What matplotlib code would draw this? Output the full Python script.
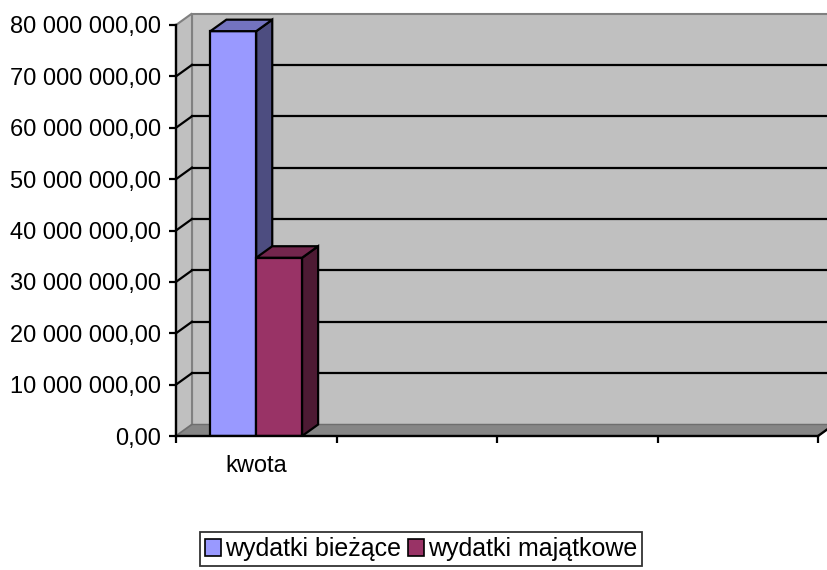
import matplotlib
matplotlib.use("Agg")
import matplotlib.pyplot as plt
from matplotlib.patches import Polygon, Patch

plt.rcParams['font.family'] = ['Liberation Sans', 'DejaVu Sans']

# ---- data ----
categories = ['kwota', '', '', '']
series_names = ['wydatki bieżące', 'wydatki majątkowe']
series_values = [[78.8e6], [34.7e6]]
front_colors = ['#9999ff', '#993366']
side_colors = ['#4d4d80', '#4d1a33']
top_colors = ['#7373bf', '#73264d']
ytick_values = [0, 10e6, 20e6, 30e6, 40e6, 50e6, 60e6, 70e6, 80e6]

def fmt(v):
    s = f"{v:,.2f}"
    return s.replace(",", " ").replace(".", ",")

W, H = 827, 570
fig = plt.figure(figsize=(W / 100, H / 100), dpi=100)
x0px, y0px = 176, 436      # front origin in pixels (from top)
catpx = 160.5
ytop_front = 25
dxpx, dypx = 16, 11.5
ymax = 80e6
ppv = (y0px - ytop_front) / ymax
dx = dxpx / catpx
dy = dypx / ppv
ax_top_px = ytop_front - dypx
ax = fig.add_axes([x0px / W, (H - y0px) / H, (W - x0px) / W, (y0px - ax_top_px) / H])
xmax = (W - x0px) / catpx
ax.set_xlim(0, xmax)
ax.set_ylim(0, ymax + dy)
for s in ax.spines.values():
    s.set_visible(False)
ax.patch.set_visible(False)

ncat = len(categories)
# back wall
ax.add_patch(Polygon([(dx, dy), (ncat + dx + 1, dy), (ncat + dx + 1, ymax + dy), (dx, ymax + dy)],
                     closed=True, facecolor='#c0c0c0', edgecolor='#808080', lw=1.5, clip_on=False, zorder=1))
# left wall
ax.add_patch(Polygon([(0, 0), (dx, dy), (dx, ymax + dy), (0, ymax)],
                     closed=True, facecolor='#c0c0c0', edgecolor='#808080', lw=1.5, clip_on=False, zorder=1))
# floor
ax.add_patch(Polygon([(0, 0), (ncat, 0), (ncat + dx, dy), (dx, dy)],
                     closed=True, facecolor='#868686', edgecolor='#6e6e6e', lw=1.0, clip_on=False, zorder=1.5))
# gridlines
for v in ytick_values[1:-1]:
    ax.plot([dx, xmax + 1], [v + dy, v + dy], color='black', lw=1.6, zorder=2, clip_on=True)
    ax.plot([0, dx], [v, v + dy], color='black', lw=1.6, zorder=2)

# axes lines
ax.plot([0, 0], [0, ymax], color='black', lw=1.7, zorder=6, clip_on=False, solid_capstyle='projecting')
ax.plot([0, ncat], [0, 0], color='black', lw=1.7, zorder=6, clip_on=False)
ax.plot([ncat, ncat + dx], [0, dy], color='black', lw=1.7, zorder=6, clip_on=False)

# bars
nser = len(series_values)
bw = 1 / (nser + 1.5)
start = (1 - nser * bw) / 2
for i, vals in enumerate(series_values):
    for c, v in enumerate(vals):
        xl = c + start + i * bw
        xr = xl + bw
        ax.bar(xl, v, width=bw, align='edge', color=front_colors[i], edgecolor='black', lw=1.6, zorder=3 + i)
        ax.add_patch(Polygon([(xr, 0), (xr + dx, dy), (xr + dx, v + dy), (xr, v)], closed=True,
                             facecolor=side_colors[i], edgecolor='black', lw=1.6, zorder=3 + i))
        ax.add_patch(Polygon([(xl, v), (xr, v), (xr + dx, v + dy), (xl + dx, v + dy)], closed=True,
                             facecolor=top_colors[i], edgecolor='black', lw=1.6, zorder=3 + i))

# ticks
ax.set_yticks(ytick_values)
ax.set_yticklabels([fmt(v) for v in ytick_values])
ax.tick_params(axis='y', length=5, width=1.6, pad=6, labelsize=17, direction='out', left=True)
ax.set_xticks(range(ncat + 1))
ax.set_xticklabels([])
ax.tick_params(axis='x', which='major', length=5, width=1.6, direction='out')
ax.set_xticks([c + 0.5 for c in range(ncat)], minor=True)
ax.set_xticklabels(categories, minor=True)
ax.tick_params(axis='x', which='minor', length=0, pad=14, labelsize=17)

handles = [Patch(facecolor=front_colors[i], edgecolor='black', lw=1.2, label=series_names[i]) for i in range(nser)]
leg = fig.legend(handles=handles, loc='center', bbox_to_anchor=(421 / W, (H - 549) / H), ncol=2,
                 fontsize=18, frameon=True, fancybox=False, edgecolor='black',
                 handlelength=0.65, handleheight=0.65, handletextpad=0.15, columnspacing=0.3,
                 borderpad=0.2, borderaxespad=0)
leg.get_frame().set_linewidth(1.3)

fig.savefig('out.png', dpi=100)
